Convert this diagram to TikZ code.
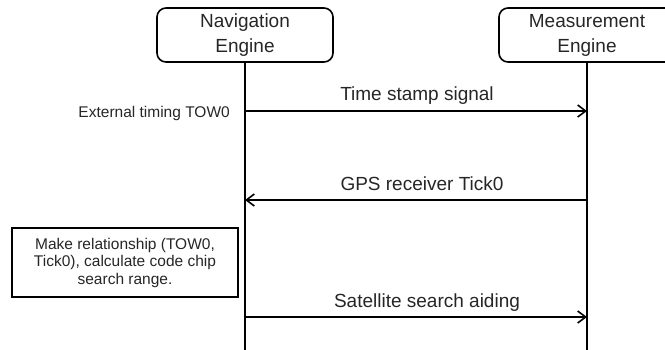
\documentclass[tikz,border=0pt]{standalone}
\usepackage{fontspec}
\setmainfont{Liberation Sans}
\usetikzlibrary{arrows.meta}
\begin{document}
\begin{tikzpicture}[x=1pt,y=-1pt,
  head/.style={draw, line width=1.6pt, rounded corners=9pt, minimum width=176pt, minimum height=54pt, align=center, font=\fontsize{19}{25}\selectfont, inner sep=0pt, text=black!85},
  life/.style={line width=1.8pt},
  msg/.style={line width=1.8pt, -{Straight Barb[length=8pt,width=12pt,line width=1.6pt]}},
  lbl/.style={font=\fontsize{19}{23}\selectfont, inner sep=0pt, anchor=base, text=black!85},
  note/.style={font=\fontsize{15.5}{17.5}\selectfont, inner sep=0pt, text=black!85},
  notebox/.style={draw, line width=1.6pt, minimum width=226pt, minimum height=69pt, align=center, font=\fontsize{15.5}{17.5}\selectfont, inner sep=0pt, text=black!85}]
\useasboundingbox (0,0) rectangle (665,349);
\clip (0,0) rectangle (665,349);
\node[head] (nav) at (245,35) {Navigation\\Engine};
\node[head] (meas) at (587,35) {Measurement\\Engine};
\coordinate (navend) at (245,352);
\coordinate (measend) at (587,352);
\draw[life] (nav.south) -- (navend);
\draw[life] (meas.south) -- (measend);
% message endpoints
\coordinate (n1) at (245,111); \coordinate (m1) at (587,111);
\coordinate (n2) at (245,200); \coordinate (m2) at (587,200);
\coordinate (n3) at (245,317); \coordinate (m3) at (587,317);
\draw[msg] (n1) -- (m1);
\draw[msg] (m2) -- (n2);
\draw[msg] (n3) -- (m3);
\node[lbl] (l1) at (417,100) {Time stamp signal};
\node[lbl] (l2) at (422,190) {GPS receiver Tick0};
\node[lbl] (l3) at (427,307) {Satellite search aiding};
\node[note, anchor=base east] (ext) at (230,117) {External timing TOW0};
\node[notebox] (rel) at (125,262.5) {Make relationship (TOW0,\\Tick0), calculate code chip\\search range.};
\end{tikzpicture}
\end{document}
